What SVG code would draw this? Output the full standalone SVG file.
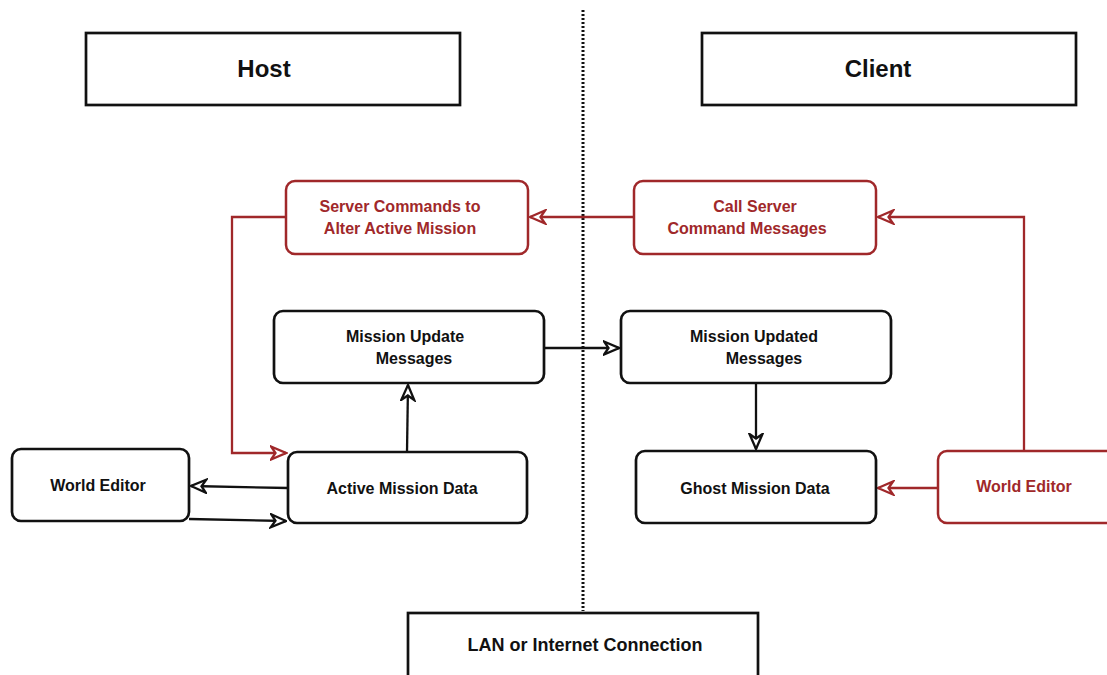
<svg xmlns="http://www.w3.org/2000/svg" width="1107" height="675" viewBox="0 0 1107 675">
<style>
.box{fill:#fff;stroke:#111;stroke-width:2.7}
.rbox{fill:#fff;stroke:#a0282a;stroke-width:2.5}
.t{font-family:"Liberation Sans",Arial,sans-serif;font-weight:bold;font-size:16px;fill:#111;text-anchor:middle}
.rt{fill:#a0282a}
.big{font-size:24px}
.c{fill:none;stroke:#111;stroke-width:2.3}
.rc{fill:none;stroke:#a0282a;stroke-width:2.3}
</style>
<defs>
<marker id="ab" viewBox="0 0 18 16" markerWidth="18" markerHeight="16" refX="16.5" refY="8" orient="auto" markerUnits="userSpaceOnUse">
<path d="M1.5,1.5 L16.5,8 L1.5,14.5 L6,8 Z" fill="#fff" stroke="#111" stroke-width="2.3" stroke-linejoin="miter"/>
</marker>
<marker id="ar" viewBox="0 0 18 16" markerWidth="18" markerHeight="16" refX="16.5" refY="8" orient="auto" markerUnits="userSpaceOnUse">
<path d="M1.5,1.5 L16.5,8 L1.5,14.5 L6,8 Z" fill="#fff" stroke="#a0282a" stroke-width="2.3" stroke-linejoin="miter"/>
</marker>
</defs>
<rect width="1107" height="675" fill="#fff"/>
<line x1="583" y1="10" x2="583" y2="611" stroke="#111" stroke-width="3" stroke-dasharray="2 2"/>
<g id="connectors">
<path class="rc" d="M286,217 H232 V453 H286" marker-end="url(#ar)"/>
<path class="rc" d="M634,217 H530" marker-end="url(#ar)"/>
<path class="rc" d="M1024,451 V217 H878" marker-end="url(#ar)"/>
<path class="rc" d="M938,488 H878" marker-end="url(#ar)"/>
<path class="c" d="M544,348 H619" marker-end="url(#ab)"/>
<path class="c" d="M407,452 L408,385" marker-end="url(#ab)"/>
<path class="c" d="M756,383 V449" marker-end="url(#ab)"/>
<path class="c" d="M288,488 L191,486" marker-end="url(#ab)"/>
<path class="c" d="M189,519 L286,521" marker-end="url(#ab)"/>
</g>
<g id="host">
<rect class="box" x="86" y="33" width="374" height="72"/>
<text class="t big" x="264" y="77">Host</text>
</g>
<g id="client">
<rect class="box" x="702" y="33" width="374" height="72"/>
<text class="t big" x="878" y="77">Client</text>
</g>
<g id="server-commands">
<rect class="rbox" x="286" y="181" width="242" height="73" rx="9"/>
<text class="t rt" x="400" y="212">Server Commands to</text>
<text class="t rt" x="400" y="234">Alter Active Mission</text>
</g>
<g id="call-server">
<rect class="rbox" x="634" y="181" width="242" height="73" rx="9"/>
<text class="t rt" x="755" y="212">Call Server</text>
<text class="t rt" x="747" y="234">Command Messages</text>
</g>
<g id="mission-update">
<rect class="box" x="274" y="311" width="270" height="72" rx="9"/>
<text class="t" x="405" y="342">Mission Update</text>
<text class="t" x="414" y="364">Messages</text>
</g>
<g id="mission-updated">
<rect class="box" x="621" y="311" width="270" height="72" rx="9"/>
<text class="t" x="754" y="342">Mission Updated</text>
<text class="t" x="764" y="364">Messages</text>
</g>
<g id="world-editor-host">
<rect class="box" x="12" y="449" width="177" height="72" rx="9"/>
<text class="t" x="98" y="491">World Editor</text>
</g>
<g id="active-mission">
<rect class="box" x="288" y="452" width="239" height="71" rx="9"/>
<text class="t" x="402" y="494">Active Mission Data</text>
</g>
<g id="ghost-mission">
<rect class="box" x="636" y="451" width="240" height="72" rx="9"/>
<text class="t" x="755" y="494">Ghost Mission Data</text>
</g>
<g id="world-editor-client">
<rect class="rbox" x="938" y="451" width="180" height="72" rx="9"/>
<text class="t rt" x="1024" y="492">World Editor</text>
</g>
<g id="lan">
<rect class="box" x="408" y="613" width="350" height="75"/>
<text class="t" x="585" y="651" style="font-size:18px">LAN or Internet Connection</text>
</g>
</svg>
